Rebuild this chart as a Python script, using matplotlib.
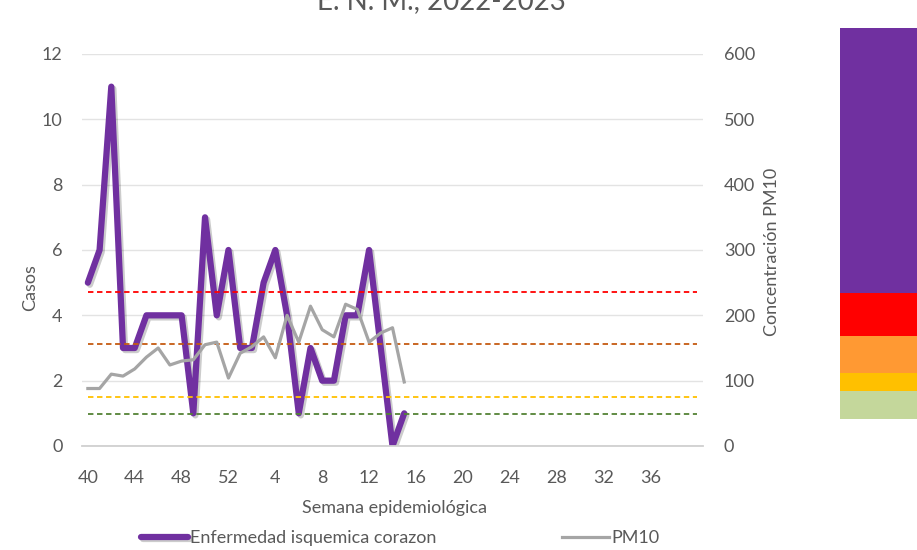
import numpy as np
import matplotlib.pyplot as plt
import matplotlib.patheffects as pe

plt.rcParams['font.family'] = ['Lato', 'DejaVu Sans']

# semanas epidemiológicas 40/2022 a 40/2023
semanas = list(range(40, 53)) + list(range(1, 41))
# casos por semana (40/2022 - 15/2023)
casos = [5, 6, 11, 3, 3, 4, 4, 4, 4, 1, 7, 4, 6,
         3, 3, 5, 6, 4, 1, 3, 2, 2, 4, 4, 6, 3, 0, 1]
# concentración PM10 en las mismas semanas
pm10 = [88, 88, 110, 107, 118, 136, 150, 124, 130, 132, 155, 159, 104,
        142, 152, 167, 135, 200, 159, 214, 178, 167, 217, 209, 159, 173, 181, 98]
# niveles de referencia PM10
umbrales = [235, 156, 75, 49]
colores_umbral = ['#FF0000', '#C55A11', '#FFC000', '#548235']
# franjas de la escala de color (de abajo hacia arriba)
franjas = [43, 28, 57, 66, 406]
colores_franja = ['#C4D79B', '#FFC000', '#FF9933', '#FF0000', '#7030A0']

gris_txt = '#595959'
x = np.arange(len(semanas))

fig = plt.figure(figsize=(9.17, 5.5), dpi=100)
ax = fig.add_axes([82/917, 104/550, 621/917, 392/550])
ax2 = ax.twinx()

linea_casos, = ax.plot(x[:len(casos)], casos, color='#7030A0', lw=4.5,
                       solid_joinstyle='round', solid_capstyle='round',
                       label='Enfermedad isquemica corazon',
                       path_effects=[pe.SimpleLineShadow(offset=(1.5, -1.5), alpha=0.2,
                                                         shadow_color='k'),
                                     pe.Normal()])

for u, c in zip(umbrales, colores_umbral):
    ax2.plot(x, [u] * len(x), color=c, lw=1.3, ls=(0, (3, 2)))
linea_pm, = ax2.plot(x[:len(pm10)], pm10, color='#A5A5A5', lw=2.3,
                     solid_joinstyle='round', label='PM10')

ax.set_xlim(-0.5, len(semanas) - 0.5)
ax.set_ylim(0, 12)
ax2.set_ylim(0, 600)
ax.set_yticks(range(0, 13, 2))
ax2.set_yticks(range(0, 601, 100))
ticks = x[:50:4]
ax.set_xticks(ticks)
ax.set_xticklabels([str(semanas[i]) for i in ticks])

ax.grid(axis='y', color='#E3E3E3', lw=1)
ax.set_axisbelow(True)
for a in (ax, ax2):
    for s in a.spines.values():
        s.set_visible(False)
    a.tick_params(length=0, labelsize=13, labelcolor=gris_txt)
ax.spines['bottom'].set_visible(True)
ax.spines['bottom'].set_color('#D0D0D0')
ax.spines['bottom'].set_linewidth(1.3)
ax.tick_params(axis='x', pad=17)
ax.tick_params(axis='y', pad=14)
ax2.tick_params(axis='y', pad=15)

ax.set_ylabel('Casos', fontsize=13, color=gris_txt)
ax.yaxis.set_label_coords(-0.071, 0.403)
ax2.set_ylabel('Concentración PM10', fontsize=13, color=gris_txt)
ax2.yaxis.set_label_coords(1.098, 0.495)
ax.set_xlabel('Semana epidemiológica', fontsize=13, color=gris_txt)
ax.xaxis.set_label_coords(0.504, -0.138)

fig.text(441/917, 1 - 9/550, 'E. N. M., 2022-2023', ha='center', va='baseline',
         fontsize=20, color=gris_txt)

fig.legend(handles=[linea_casos, linea_pm], loc='center', ncol=2,
           bbox_to_anchor=(400/917, 1 - 538/550), frameon=False,
           fontsize=13, labelcolor=gris_txt, handlelength=2.6,
           handletextpad=0.1, columnspacing=7)

# escala de color a la derecha
axc = fig.add_axes([840/917, 131/550, 80/917, 391/550])
base = 0
for h, c in zip(franjas, colores_franja):
    axc.bar(0, h, bottom=base, width=1, color=c)
    base += h
axc.set_xlim(-0.5, 0.5)
axc.set_ylim(0, base)
axc.axis('off')

fig.savefig('out.png', dpi=100)
